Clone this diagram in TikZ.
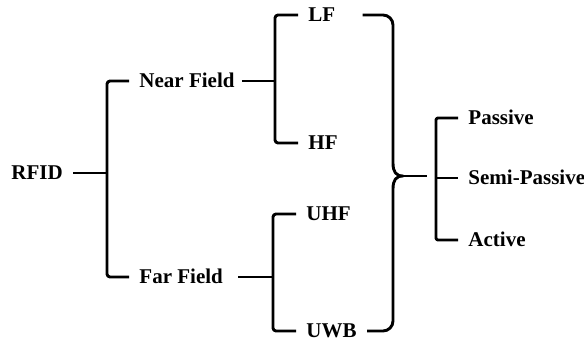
\documentclass[tikz,border=0pt]{standalone}
\usepackage{fontspec}
\setmainfont{Liberation Serif}
\usetikzlibrary{positioning}

\begin{document}
\begin{tikzpicture}[x=1pt,y=-1pt,
    lab/.style={anchor=west, inner xsep=9pt, inner ysep=0pt, text height=13.9pt, text depth=0pt,
      font=\fontsize{21}{25}\selectfont\bfseries},
    every path/.style={line width=2.9pt, line join=round}]
    \useasboundingbox (0,0) rectangle (584,343);

    \node[lab] (rfid) at (1,173) {RFID};
    \node[lab] (nf) at (129,81) {Near Field};
    \node[lab] (ff) at (129,277) {Far Field};
    \node[lab] (lf) at (298,15) {LF};
    \node[lab] (hf) at (298,143) {HF};
    \node[lab] (uhf) at (296,214) {UHF};
    \node[lab] (uwb) at (296,331) {UWB};
    \node[lab] (pas) at (458,118) {Passive};
    \node[lab] (semi) at (458,178) {Semi-Passive};
    \node[lab] (act) at (458,240) {Active};

    \coordinate (j1) at (107,173);
    \coordinate (j2) at (275,81);
    \coordinate (j3) at (273,277);
    \coordinate (j4) at (436,178);
    \coordinate (btip) at (403,176);
    \coordinate (bend) at (427,176);

    \draw (rfid.east) -- (j1);
    \draw[rounded corners=3pt] (nf.west) -| (j1) |- (ff.west); % field
    \draw ([xshift=-3pt]nf.east) -- (j2);
    \draw[rounded corners=3pt] (lf.west) -| (j2) |- (hf.west); % near
    \draw ([xshift=5pt]ff.east) -- (j3);
    \draw[rounded corners=3pt] (uhf.west) -| (j3) |- (uwb.west); % far

    % brace
    \draw ([xshift=17pt]lf.east) -- (383,15) to[out=0,in=90] (393,25) -- (393,163)
      .. controls (393,172) and (396,176) .. (btip)
      .. controls (396,176) and (393,180) .. (393,189) -- (393,321)
      to[out=-90,in=0] (383,331) -- (uwb.east);
    \draw (btip) -- (bend);

    \draw[rounded corners=2pt] (pas.west) -| (j4) |- (act.west); % power
    \draw (j4) -- (semi.west);
\end{tikzpicture}
\end{document}
